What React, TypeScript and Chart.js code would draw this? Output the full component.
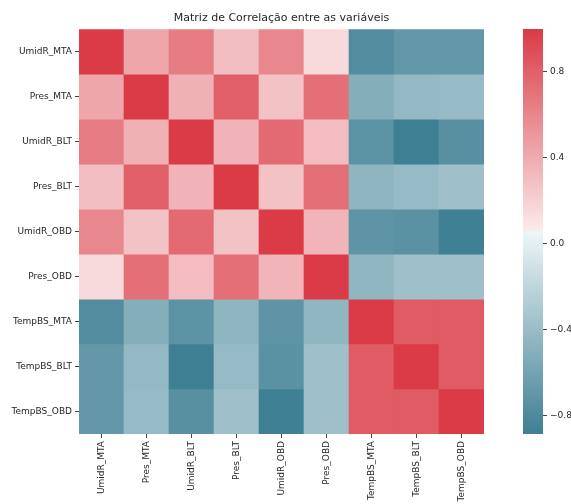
import React, { useEffect, useRef } from "react";
import { Chart, registerables } from "chart.js";

Chart.register(...registerables);

const variables = [
  "UmidR_MTA",
  "Pres_MTA",
  "UmidR_BLT",
  "Pres_BLT",
  "UmidR_OBD",
  "Pres_OBD",
  "TempBS_MTA",
  "TempBS_BLT",
  "TempBS_OBD",
];

const umidR_MTA = [1, 0.43, 0.65, 0.3, 0.59, 0.15, -0.78, -0.69, -0.69];
const pres_MTA = [0.43, 1, 0.37, 0.81, 0.28, 0.72, -0.51, -0.43, -0.41];
const umidR_BLT = [0.65, 0.37, 1, 0.36, 0.75, 0.31, -0.73, -0.885, -0.75];
const pres_BLT = [0.3, 0.81, 0.36, 1, 0.28, 0.72, -0.46, -0.41, -0.37];
const umidR_OBD = [0.59, 0.28, 0.75, 0.28, 1, 0.35, -0.72, -0.74, -0.88];
const pres_OBD = [0.15, 0.72, 0.31, 0.72, 0.35, 1, -0.45, -0.37, -0.37];
const tempBS_MTA = [-0.78, -0.51, -0.73, -0.46, -0.72, -0.45, 1, 0.83, 0.83];
const tempBS_BLT = [-0.69, -0.43, -0.885, -0.41, -0.74, -0.37, 0.83, 1, 0.83];
const tempBS_OBD = [-0.69, -0.41, -0.75, -0.37, -0.88, -0.37, 0.83, 0.83, 1];

const colorbarTicks = [-0.8, -0.4, 0, 0.4, 0.8];

const matrix = [
  umidR_MTA,
  pres_MTA,
  umidR_BLT,
  pres_BLT,
  umidR_OBD,
  pres_OBD,
  tempBS_MTA,
  tempBS_BLT,
  tempBS_OBD,
];

const vmin = Math.min(...matrix.flat());
const vmax = Math.max(...matrix.flat());

// diverging blue -> light gray -> red colormap
const cmapStops: [number, number[]][] = [
  [0, [63, 127, 147]],
  [127 / 256, [237, 245, 247]],
  [128 / 256, [242, 242, 242]],
  [129 / 256, [251, 234, 235]],
  [1, [218, 59, 70]],
];

function colorAt(t: number): string {
  const x = Math.max(0, Math.min(1, t));
  for (let i = 1; i < cmapStops.length; i++) {
    const [p1, c1] = cmapStops[i];
    const [p0, c0] = cmapStops[i - 1];
    if (x <= p1) {
      const f = p1 === p0 ? 0 : (x - p0) / (p1 - p0);
      const c = c0.map((a, k) => Math.round(a + (c1[k] - a) * f));
      return `rgb(${c[0]},${c[1]},${c[2]})`;
    }
  }
  const c = cmapStops[cmapStops.length - 1][1];
  return `rgb(${c[0]},${c[1]},${c[2]})`;
}

const cmap = (v: number) => colorAt((v - vmin) / (vmax - vmin));

const FONT = "'DejaVu Sans', sans-serif";
const TEXT = "#262626";

const tickFont = { family: FONT, size: 9 };

export default function App() {
  const heatRef = useRef<HTMLCanvasElement | null>(null);
  const barRef = useRef<HTMLCanvasElement | null>(null);

  useEffect(() => {
    if (!heatRef.current || !barRef.current) return;

    const heat = new Chart(heatRef.current, {
      type: "bar",
      data: {
        labels: variables,
        datasets: matrix.map((row, r) => ({
          label: variables[r],
          data: row.map(() => [r, r + 1]),
          backgroundColor: row.map((v) => cmap(v)),
          borderWidth: 0,
          grouped: false,
          barPercentage: 1,
          categoryPercentage: 1,
        })),
      } as any,
      options: {
        animation: false,
        responsive: false,
        devicePixelRatio: 1,
        layout: { padding: { left: 0, right: 16, top: 0, bottom: 0 } },
        plugins: {
          legend: { display: false },
          tooltip: { enabled: false },
          title: {
            display: true,
            text: "Matriz de Correlação entre as variáveis",
            fullSize: false,
            color: TEXT,
            font: { family: FONT, size: 11, weight: "normal" },
            padding: { top: 12, bottom: 4 },
          },
        },
        scales: {
          x: {
            type: "category",
            offset: true,
            border: { display: false },
            grid: {
              display: true,
              drawOnChartArea: false,
              drawTicks: true,
              tickLength: 4,
              offset: false,
              color: "#444",
            },
            ticks: {
              autoSkip: false,
              maxRotation: 90,
              minRotation: 90,
              padding: 3,
              color: TEXT,
              font: tickFont,
            },
            afterFit: (s: any) => {
              s.height = 70;
            },
          },
          y: {
            type: "linear",
            min: 0,
            max: variables.length,
            reverse: true,
            border: { display: false },
            grid: {
              display: true,
              drawOnChartArea: false,
              drawTicks: true,
              tickLength: 4,
              color: "#444",
            },
            afterBuildTicks: (s: any) => {
              s.ticks = variables.map((_, i) => ({ value: i + 0.5 }));
            },
            ticks: {
              autoSkip: false,
              padding: 3,
              color: TEXT,
              font: tickFont,
              callback: (v: any) => variables[Math.floor(Number(v))],
            },
            afterFit: (s: any) => {
              s.width = 79;
            },
          },
        },
      } as any,
    });

    const bar = new Chart(barRef.current, {
      type: "bar",
      data: {
        labels: [""],
        datasets: [
          {
            data: [[vmin, vmax]],
            borderWidth: 0,
            barPercentage: 1,
            categoryPercentage: 1,
            backgroundColor: (c: any) => {
              const chart = c.chart;
              const ys = chart.scales && chart.scales.y;
              if (!ys || !chart.chartArea) return "#f2f2f2";
              const g = chart.ctx.createLinearGradient(
                0,
                ys.getPixelForValue(vmin),
                0,
                ys.getPixelForValue(vmax)
              );
              cmapStops.forEach(([p, col]) =>
                g.addColorStop(p, `rgb(${col[0]},${col[1]},${col[2]})`)
              );
              return g;
            },
          },
        ],
      } as any,
      options: {
        animation: false,
        responsive: false,
        devicePixelRatio: 1,
        layout: { padding: { left: 23, right: 0, top: 29, bottom: 70 } },
        plugins: {
          legend: { display: false },
          tooltip: { enabled: false },
        },
        scales: {
          x: { display: false },
          y: {
            position: "right",
            min: vmin,
            max: vmax,
            border: { display: false },
            grid: {
              display: true,
              drawOnChartArea: false,
              drawTicks: true,
              tickLength: 4,
              color: "#444",
            },
            afterBuildTicks: (s: any) => {
              s.ticks = colorbarTicks.map((v) => ({ value: v }));
            },
            ticks: {
              padding: 3,
              color: TEXT,
              font: tickFont,
              callback: (v: any) => Number(v).toFixed(1).replace("-", "\u2212"),
            },
            afterFit: (s: any) => {
              s.width = 28;
            },
          },
        },
      } as any,
    });

    return () => {
      heat.destroy();
      bar.destroy();
    };
  }, []);

  return (
    <div
      style={{
        position: "fixed",
        left: 0,
        top: 0,
        width: 571,
        height: 504,
        background: "#fff",
        overflow: "hidden",
      }}
    >
      <canvas
        ref={heatRef}
        width={500}
        height={504}
        style={{ position: "absolute", left: 0, top: 0 }}
      />
      <canvas
        ref={barRef}
        width={71}
        height={504}
        style={{ position: "absolute", left: 500, top: 0 }}
      />
    </div>
  );
}
